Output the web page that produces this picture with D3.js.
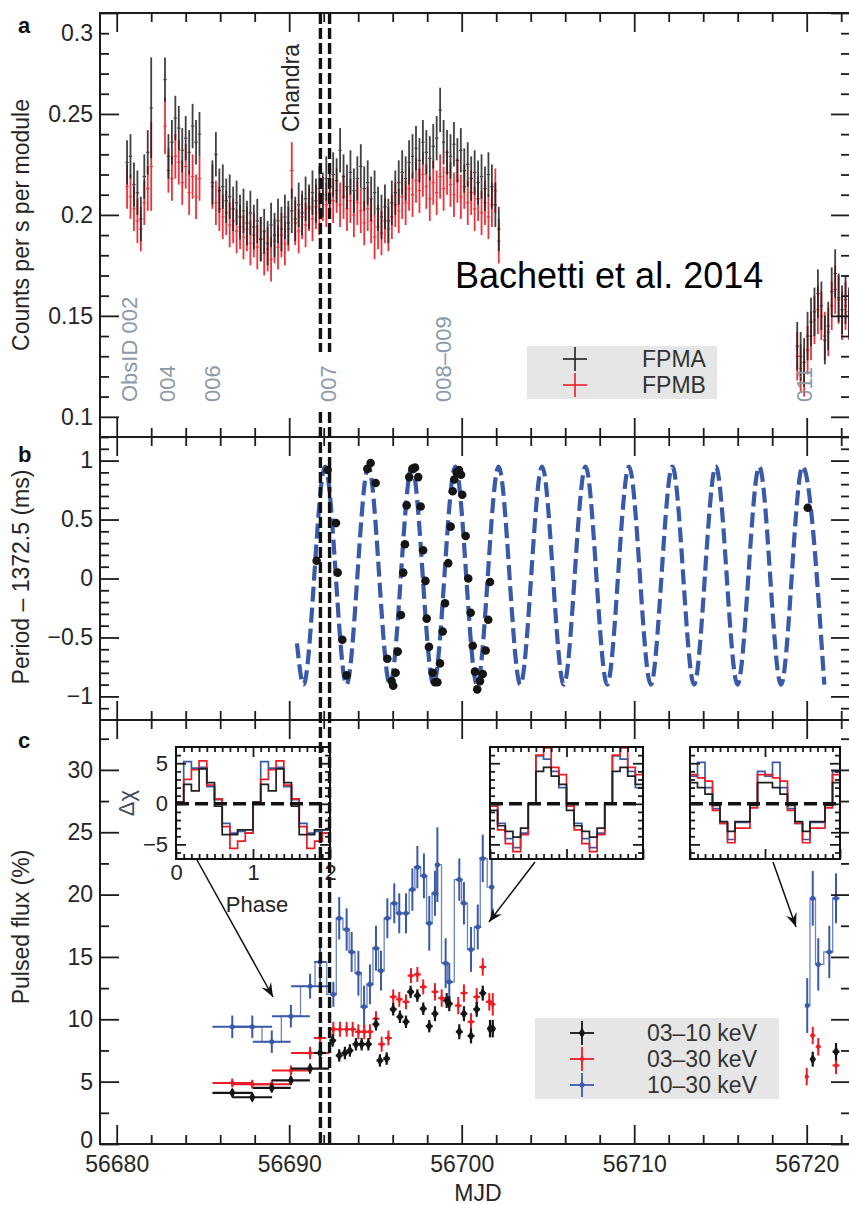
<!DOCTYPE html>
<html>
<head>
<meta charset="utf-8">
<script src="https://cdn.jsdelivr.net/npm/d3@7"></script>
<style>
  body { margin: 0; background: #fff; }
  svg text { font-family: "Liberation Sans", Arial, Helvetica, sans-serif; }
</style>
</head>
<body>
<div id="graf"></div>
<script>
// ---------------- data ----------------
// panel a: light curve, 0.2 d bins, one array per observation segment
const lcStart = [56680.6, 56682.8, 56685.55, 56719.45]
const lcBin = 0.2
const fpma = [
  [0.226, 0.229, 0.215, 0.211, 0.198, 0.219, 0.231, 0.253],
  [0.267, 0.229, 0.236, 0.248, 0.243, 0.232, 0.238, 0.231, 0.244, 0.236, 0.240],
  [0.216, 0.230, 0.212, 0.214, 0.207, 0.209, 0.203, 0.206, 0.199, 0.202,
   0.196, 0.201, 0.194, 0.197, 0.188, 0.192, 0.186, 0.195, 0.190, 0.197,
   0.193, 0.199, 0.196, 0.202, 0.198, 0.205, 0.201, 0.208, 0.204, 0.211,
   0.207, 0.213, 0.210, 0.218, 0.214, 0.220, 0.217, 0.232, 0.219, 0.214,
   0.221, 0.212, 0.218, 0.224, 0.213, 0.216, 0.208, 0.211, 0.203, 0.199,
   0.204, 0.197, 0.206, 0.211, 0.216, 0.221, 0.218, 0.226, 0.229, 0.233,
   0.227, 0.236, 0.231, 0.228, 0.234, 0.238, 0.252, 0.236, 0.231, 0.229,
   0.235, 0.227, 0.232, 0.222, 0.225, 0.218, 0.221, 0.216, 0.219, 0.213,
   0.220, 0.214, 0.205, 0.193],
  [0.135, 0.130, 0.127, 0.140, 0.147, 0.152, 0.161, 0.155, 0.138, 0.145, 0.162, 0.171, 0.159, 0.153, 0.158, 0.152]
]
const fpmb = [
  [0.214, 0.209, 0.203, 0.197, 0.193, 0.206, 0.213, 0.224],
  [0.244, 0.222, 0.218, 0.229, 0.226, 0.216, 0.224, 0.211, 0.219, 0.209, 0.218],
  [0.214, 0.206, 0.203, 0.199, 0.201, 0.195, 0.197, 0.192, 0.194, 0.189,
   0.193, 0.186, 0.190, 0.184, 0.188, 0.181, 0.183, 0.178, 0.187, 0.184,
   0.190, 0.186, 0.193, 0.222, 0.196, 0.192, 0.199, 0.195, 0.203, 0.198,
   0.204, 0.201, 0.208, 0.205, 0.211, 0.207, 0.212, 0.205, 0.209, 0.203,
   0.207, 0.200, 0.206, 0.202, 0.196, 0.203, 0.197, 0.189, 0.194, 0.191,
   0.197, 0.193, 0.199, 0.205, 0.202, 0.209, 0.206, 0.213, 0.210, 0.217,
   0.212, 0.220, 0.214, 0.208, 0.216, 0.211, 0.219, 0.213, 0.221, 0.215,
   0.210, 0.217, 0.209, 0.214, 0.206, 0.211, 0.203, 0.208, 0.201, 0.206,
   0.199, 0.205, 0.212, 0.187],
  [0.130, 0.124, 0.122, 0.133, 0.140, 0.148, 0.153, 0.150, 0.140, 0.142, 0.155, 0.163, 0.158, 0.150, 0.155, 0.150]
]
const lcErr = [0.011, 0.011, 0.011, 0.012]
// [segment, bin, error] for the few bins with larger error bars
const wideErrA = [[0, 7, 0.025], [1, 0, 0.011]]
const wideErrB = [[0, 7, 0.022], [1, 0, 0.014], [2, 23, 0.014]]

const obsLabels = [
  { mjd: 56681.18, text: 'ObsID 002' },
  { mjd: 56683.39, text: '004' },
  { mjd: 56686.0, text: '006' },
  { mjd: 56692.71, text: '007' },
  { mjd: 56699.38, text: '008–009' },
  { mjd: 56720.31, text: '011' }
]
const eclipse = [56691.81, 56692.34] // dashed vertical lines
const chandraMjd = 56690.55

// panel b: period residuals
const periodPts = [
  [56691.59, 0.15], [56692.23, 0.92], [56692.71, 0.47], [56692.81, 0.05], [56693.08, -0.52],
  [56693.33, -0.82], [56694.53, 0.93], [56694.72, 0.98], [56695.01, 0.81], [56695.69, -0.68],
  [56695.94, -0.87], [56696.03, -0.91], [56696.17, -0.80], [56696.29, -0.62], [56696.48, -0.31],
  [56696.61, 0.05], [56696.71, 0.29], [56696.81, 0.62], [56696.96, 0.86], [56697.14, 0.93],
  [56697.29, 0.94], [56697.48, 0.86], [56697.62, 0.61], [56697.76, 0.24], [56697.90, -0.02],
  [56697.97, -0.34], [56698.10, -0.58], [56698.32, -0.80], [56698.45, -0.88], [56698.59, -0.88],
  [56698.74, -0.72], [56698.90, -0.45], [56699.03, -0.21], [56699.22, 0.13], [56699.36, 0.44],
  [56699.48, 0.74], [56699.57, 0.84], [56699.71, 0.90], [56699.84, 0.92], [56699.96, 0.88],
  [56700.03, 0.71], [56700.23, 0.36], [56700.38, 0.00], [56700.52, -0.29], [56700.64, -0.57],
  [56700.77, -0.79], [56700.90, -0.94], [56701.06, -0.87], [56701.22, -0.81], [56701.39, -0.61],
  [56701.54, -0.35], [56701.64, -0.03], [56720.06, 0.60]
]
// orbital model: start, then alternating troughs / peaks
const modelPts = [
  [56690.45, -0.55], [56690.83, -0.90], [56692.08, 0.95], [56693.32, -0.90], [56694.59, 0.95],
  [56695.84, -0.90], [56697.11, 0.95], [56698.37, -0.90], [56699.63, 0.95], [56700.89, -0.90],
  [56702.14, 0.95], [56703.40, -0.90], [56704.66, 0.95], [56705.92, -0.90], [56707.18, 0.95],
  [56708.43, -0.90], [56709.70, 0.95], [56710.96, -0.90], [56712.21, 0.95], [56713.47, -0.90],
  [56714.73, 0.95], [56715.99, -0.90], [56717.25, 0.95], [56718.51, -0.90], [56719.76, 0.95],
  [56721.02, -0.90]
]

// panel c: pulsed fraction [MJD, value, y error, x half-width]
const band0310 = [
  [56686.70, 4.10, 0.30, 1.15], [56687.86, 3.75, 0.30, 1.15], [56688.99, 4.50, 0.35, 1.10],
  [56690.10, 5.10, 0.35, 1.10], [56691.21, 6.05, 0.40, 1.10], [56691.79, 7.30, 0.50, 0.35],
  [56692.52, 8.30, 0.50, 0.20], [56692.90, 7.10, 0.50, 0.20], [56693.23, 7.30, 0.50, 0.20],
  [56693.52, 7.50, 0.50, 0.20], [56693.87, 8.00, 0.50, 0.20], [56694.20, 8.00, 0.50, 0.20],
  [56694.59, 8.00, 0.50, 0.20], [56695.03, 9.60, 0.50, 0.20], [56695.26, 6.70, 0.50, 0.20],
  [56695.65, 6.85, 0.50, 0.20], [56696.03, 10.80, 0.50, 0.20], [56696.42, 10.20, 0.50, 0.20],
  [56696.77, 9.80, 0.50, 0.20], [56697.04, 12.20, 0.50, 0.20], [56697.43, 11.90, 0.50, 0.20],
  [56697.77, 10.85, 0.50, 0.20], [56698.12, 9.45, 0.50, 0.20], [56698.45, 10.45, 0.60, 0.20],
  [56699.13, 11.50, 0.60, 0.20], [56699.28, 11.25, 0.60, 0.20], [56699.86, 9.00, 0.60, 0.20],
  [56700.13, 10.45, 0.60, 0.20], [56700.54, 8.67, 0.60, 0.20], [56700.87, 10.80, 0.60, 0.20],
  [56701.22, 12.10, 0.60, 0.20], [56701.64, 9.25, 0.70, 0.15], [56701.80, 9.25, 0.70, 0.15],
  [56720.35, 6.80, 0.60, 0.15], [56721.70, 7.40, 0.70, 0.20]
]
const band0330 = [
  [56686.70, 4.90, 0.35, 1.15], [56687.86, 4.80, 0.35, 1.15], [56688.99, 4.80, 0.35, 1.10],
  [56690.10, 5.90, 0.40, 1.10], [56691.21, 7.30, 0.50, 1.10], [56691.79, 8.50, 0.60, 0.35],
  [56692.56, 9.20, 0.60, 0.20], [56692.94, 9.20, 0.60, 0.20], [56693.33, 9.20, 0.60, 0.20],
  [56693.68, 9.20, 0.60, 0.20], [56694.01, 9.00, 0.60, 0.20], [56694.35, 9.00, 0.60, 0.20],
  [56694.68, 9.00, 0.60, 0.20], [56695.03, 10.05, 0.60, 0.20], [56695.36, 8.00, 0.60, 0.20],
  [56695.75, 8.50, 0.60, 0.20], [56696.03, 11.80, 0.60, 0.20], [56696.38, 11.60, 0.60, 0.20],
  [56696.77, 11.40, 0.60, 0.20], [56697.06, 13.50, 0.60, 0.20], [56697.43, 13.60, 0.60, 0.20],
  [56697.77, 12.60, 0.60, 0.20], [56698.45, 12.20, 0.70, 0.20], [56698.84, 11.70, 0.70, 0.20],
  [56699.80, 11.10, 0.70, 0.20], [56700.13, 12.10, 0.70, 0.20], [56700.54, 9.80, 0.70, 0.20],
  [56700.87, 11.80, 0.70, 0.20], [56701.22, 14.20, 0.70, 0.20], [56701.60, 11.40, 0.70, 0.20],
  [56701.80, 11.20, 0.90, 0.15], [56720.00, 5.40, 0.70, 0.10], [56720.35, 8.70, 0.70, 0.15],
  [56720.67, 7.80, 0.70, 0.15], [56721.70, 6.30, 0.70, 0.20]
]
const band1030 = [
  [56686.70, 9.40, 0.90, 1.15], [56687.86, 9.40, 0.90, 1.15], [56688.99, 8.20, 0.90, 1.10],
  [56690.10, 10.25, 0.90, 1.10], [56691.21, 12.65, 1.00, 1.10], [56691.79, 14.60, 1.70, 0.35],
  [56692.56, 12.00, 1.00, 0.20], [56692.90, 18.10, 1.70, 0.20], [56693.33, 17.20, 1.70, 0.20],
  [56693.62, 15.40, 1.60, 0.20], [56694.01, 13.70, 1.80, 0.20], [56694.34, 11.00, 1.70, 0.20],
  [56694.68, 12.80, 1.60, 0.20], [56695.03, 15.70, 1.80, 0.20], [56695.32, 13.90, 1.60, 0.20],
  [56695.69, 18.10, 1.60, 0.20], [56696.09, 19.30, 1.60, 0.20], [56696.38, 18.50, 1.60, 0.20],
  [56696.77, 18.50, 1.60, 0.20], [56697.14, 20.40, 1.70, 0.20], [56697.43, 22.20, 1.70, 0.20],
  [56697.81, 21.50, 1.80, 0.20], [56698.12, 17.70, 2.20, 0.20], [56698.45, 20.10, 1.80, 0.20],
  [56698.59, 22.40, 3.00, 0.15], [56699.07, 14.50, 2.00, 0.20], [56699.28, 13.00, 1.50, 0.20],
  [56699.86, 21.20, 1.70, 0.20], [56700.13, 19.30, 1.70, 0.20], [56700.54, 15.60, 1.80, 0.20],
  [56700.93, 17.40, 1.80, 0.20], [56701.22, 22.90, 1.90, 0.20], [56701.74, 20.60, 2.30, 0.15],
  [56720.03, 11.10, 2.20, 0.10], [56720.35, 19.70, 2.20, 0.15], [56720.67, 14.40, 2.10, 0.15],
  [56721.31, 15.40, 2.10, 0.20], [56721.70, 19.70, 2.00, 0.20]
]

// pulse profile insets: Δχ per 0.1-phase bin over one cycle (drawn twice)
const prof1Black = [0.2, 2.4, 1.6, 4.3, 2.6, -0.3, -3.8, -3.8, -3.2, -3.2]
const prof1Red   = [0.2, 3.0, 4.2, 5.3, 2.3, 0.6, -2.8, -5.5, -4.6, -3.6]
const prof1Blue  = [0.0, 5.2, 4.4, 4.5, 2.1, 0.5, -2.4, -3.6, -3.4, -3.6]
const prof2Black = [-0.8, -2.7, -3.4, -4.1, -3.0, 0.0, 4.0, 4.5, 3.4, 2.4]
const prof2Red   = [-0.3, -3.2, -4.9, -5.9, -3.8, 0.1, 6.0, 6.9, 4.5, 3.6]
const prof2Blue  = [0.0, -2.4, -4.3, -5.4, -3.6, 0.0, 5.9, 5.5, 4.0, 2.0]
const prof3Black = [2.6, 2.0, 1.2, -0.2, -2.2, -3.4, -2.2, -2.2, -0.2, 2.6]
const prof3Red   = [3.6, 3.2, 2.8, -0.8, -2.4, -4.8, -3.0, -3.0, -0.5, 3.6]
const prof3Blue  = [3.4, 5.1, 2.0, -0.6, -2.4, -4.4, -2.3, -2.3, 0.0, 4.0]

// tick values
const xMajor = [56680, 56690, 56700, 56710, 56720]
const yTicksA = [0.1, 0.15, 0.2, 0.25, 0.3]
const yTicksB = [-1, -0.5, 0, 0.5, 1]
const yTicksC = [0, 5, 10, 15, 20, 25, 30]

// ---------------- layout ----------------
const FONT = '"Liberation Sans", Arial, Helvetica, sans-serif'
const INK = '#1c1c1c'
const RED = '#ec1c24'
const BLUE = '#3a5aa8'
const left = 100, right = 850

const svg = d3.select('#graf').append('svg')
  .attr('width', 849).attr('height', 1205)

const x = d3.scaleLinear().domain([56679.032, 56722.51]).range([left, right])
const yA = d3.scaleLinear().domain([0.09, 0.30]).range([437, 13])
const yB = d3.scaleLinear().domain([-1.2, 1.2]).range([720, 437])
const yC = d3.scaleLinear().domain([0, 34]).range([1144, 720])

const xMinor = d3.range(56680, 56723, 2).filter(d => d % 10 !== 0)

function tidy(sel) {
  sel.select('.domain').remove()
  sel.selectAll('line').attr('stroke', INK).attr('stroke-width', 1.8)
  sel.selectAll('text').attr('font-size', 23).attr('fill', '#262626').attr('font-family', FONT)
}

function xTicks(yPos, orient, labels) {
  const mk = orient === 'top' ? d3.axisTop : d3.axisBottom
  svg.append('g').attr('transform', `translate(0,${yPos})`)
    .call(mk(x).tickValues(xMinor).tickSize(-9).tickFormat(''))
    .call(tidy)
  svg.append('g').attr('transform', `translate(0,${yPos})`)
    .call(mk(x).tickValues(xMajor).tickSize(-19).tickPadding(12)
      .tickFormat(labels ? d3.format('d') : ''))
    .call(tidy)
}

function yTicks(y, major, minor, fmt) {
  svg.append('g').attr('transform', `translate(${left},0)`)
    .call(d3.axisLeft(y).tickValues(minor).tickSize(-9).tickFormat(''))
    .call(tidy)
  const g = svg.append('g').attr('transform', `translate(${left},0)`)
    .call(d3.axisLeft(y).tickValues(major).tickSize(-19).tickPadding(7).tickFormat(fmt))
    .call(tidy)
  svg.append('g').attr('transform', `translate(${right},0)`)
    .call(d3.axisRight(y).tickValues(minor).tickSize(-9).tickFormat(''))
    .call(tidy)
  svg.append('g').attr('transform', `translate(${right},0)`)
    .call(d3.axisRight(y).tickValues(major).tickSize(-19).tickFormat(''))
    .call(tidy)
  return g
}

const fmt = d3.format('~g')

// ---------------- panel a ----------------
const gA = svg.append('g')
function lcPoints(series, wide) {
  const pts = []
  series.forEach((seg, s) => seg.forEach((v, i) => {
    const w = wide.find(d => d[0] === s && d[1] === i)
    pts.push({ m: lcStart[s] + i * lcBin, v: v, e: w ? w[2] : lcErr[s] })
  }))
  return pts
}
function drawLc(pts, color, opacity) {
  const g = gA.append('g').attr('stroke', color).attr('opacity', opacity)
  g.selectAll('.ev').data(pts).join('line').attr('stroke-width', 1.8)
    .attr('x1', d => x(d.m)).attr('x2', d => x(d.m))
    .attr('y1', d => yA(d.v - d.e)).attr('y2', d => yA(d.v + d.e))
  g.selectAll('.eh').data(pts).join('line').attr('class', 'eh').attr('stroke-width', 1.1)
    .attr('x1', d => x(d.m - lcBin / 2)).attr('x2', d => x(d.m + lcBin / 2))
    .attr('y1', d => yA(d.v)).attr('y2', d => yA(d.v))
}
drawLc(lcPoints(fpmb, wideErrB), RED, 0.9)
drawLc(lcPoints(fpma, wideErrA), '#202020', 0.85)

obsLabels.forEach(d => {
  gA.append('text')
    .attr('transform', `translate(${x(d.mjd)},402) rotate(-90)`)
    .attr('font-size', 22).attr('fill', '#8c99a6')
    .text(d.text)
})
gA.append('text')
  .attr('transform', `translate(${x(chandraMjd)},88) rotate(-90)`)
  .attr('text-anchor', 'middle').attr('font-size', 23).attr('fill', '#262626')
  .text('Chandra')

// legend a
gA.append('rect').attr('x', 527).attr('y', 346).attr('width', 190).attr('height', 53).attr('fill', '#e6e6e6')
;[['FPMA', '#202020', 359], ['FPMB', RED, 385]].forEach(([t, c, yy]) => {
  gA.append('line').attr('x1', 563).attr('x2', 587).attr('y1', yy).attr('y2', yy).attr('stroke', c).attr('stroke-width', 1.6)
  gA.append('line').attr('x1', 575).attr('x2', 575).attr('y1', yy - 12).attr('y2', yy + 12).attr('stroke', c).attr('stroke-width', 1.6)
  gA.append('text').attr('x', 642).attr('y', yy + 8).attr('font-size', 23).attr('fill', '#333').text(t)
})

svg.append('text').attr('x', 455).attr('y', 288).attr('font-size', 36).attr('fill', '#000')
  .text('Bachetti et al. 2014')

// ---------------- panel b ----------------
const gB = svg.append('g')
gB.append('path').datum(modelPts)
  .attr('fill', 'none').attr('stroke', BLUE).attr('stroke-width', 4.2)
  .attr('stroke-dasharray', '15,6')
  .attr('d', d3.line().x(d => x(d[0])).y(d => yB(d[1])).curve(d3.curveMonotoneX))
gB.selectAll('circle').data(periodPts).join('circle')
  .attr('cx', d => x(d[0])).attr('cy', d => yB(d[1])).attr('r', 4.3).attr('fill', '#151515')

// ---------------- panel c ----------------
const gC = svg.append('g')
function groups(arr) {
  const out = [[arr[0]]]
  for (let i = 1; i < arr.length; i++) {
    if (arr[i][0] - arr[i - 1][0] > 3) out.push([])
    out[out.length - 1].push(arr[i])
  }
  return out
}
function drawBand(arr, color, symbol, size, sw, steps) {
  const g = gC.append('g')
  if (steps) {
    const step = d3.line().x(d => x(d[0])).y(d => yC(d[1])).curve(d3.curveStep)
    groups(arr).forEach(grp => {
      g.append('path').datum(grp).attr('fill', 'none').attr('stroke', color)
        .attr('stroke-width', 1.3).attr('opacity', 0.75).attr('d', step)
    })
  }
  g.selectAll('.v').data(arr).join('line').attr('class', 'v')
    .attr('x1', d => x(d[0])).attr('x2', d => x(d[0]))
    .attr('y1', d => yC(d[1] - d[2])).attr('y2', d => yC(d[1] + d[2]))
    .attr('stroke', color).attr('stroke-width', sw)
  g.selectAll('.h').data(arr).join('line').attr('class', 'h')
    .attr('x1', d => x(d[0] - d[3])).attr('x2', d => x(d[0] + d[3]))
    .attr('y1', d => yC(d[1])).attr('y2', d => yC(d[1]))
    .attr('stroke', color).attr('stroke-width', sw)
  g.selectAll('.s').data(arr).join('path').attr('class', 's')
    .attr('transform', d => `translate(${x(d[0])},${yC(d[1])})`)
    .attr('d', d3.symbol().type(symbol).size(size)).attr('fill', color)
}
drawBand(band1030, BLUE, d3.symbolCircle, 20, 2, true)
drawBand(band0330, RED, d3.symbolDiamond, 18, 2, false)
drawBand(band0310, '#151515', d3.symbolDiamond, 34, 2.2, false)

// legend c
gC.append('rect').attr('x', 535).attr('y', 1018).attr('width', 244).attr('height', 81).attr('fill', '#e6e6e6')
;[['03–10 keV', '#151515', 1033, d3.symbolDiamond, 34],
  ['03–30 keV', RED, 1059, d3.symbolDiamond, 18],
  ['10–30 keV', BLUE, 1085, d3.symbolCircle, 20]].forEach(([t, c, yy, sym, sz]) => {
  gC.append('line').attr('x1', 570).attr('x2', 594).attr('y1', yy).attr('y2', yy).attr('stroke', c).attr('stroke-width', 1.8)
  gC.append('line').attr('x1', 582).attr('x2', 582).attr('y1', yy - 12).attr('y2', yy + 12).attr('stroke', c).attr('stroke-width', 1.8)
  gC.append('path').attr('transform', `translate(582,${yy})`).attr('d', d3.symbol().type(sym).size(sz)).attr('fill', c)
  gC.append('text').attr('x', 647).attr('y', yy + 8).attr('font-size', 23).attr('fill', '#333').text(t)
})

// arrows from insets
svg.append('defs').append('marker').attr('id', 'ah')
  .attr('viewBox', '-14 -6 16 12').attr('markerWidth', 16).attr('markerHeight', 12)
  .attr('markerUnits', 'userSpaceOnUse').attr('orient', 'auto').attr('refX', 0).attr('refY', 0)
  .append('path').attr('d', 'M0,0 L-14,-5.5 L-9,0 L-14,5.5 Z').attr('fill', '#111')
;[[197, 860, 273, 997], [535, 862, 489, 922], [773, 862, 796, 927]].forEach(a => {
  svg.append('line').attr('x1', a[0]).attr('y1', a[1]).attr('x2', a[2]).attr('y2', a[3])
    .attr('stroke', '#111').attr('stroke-width', 1.5).attr('marker-end', 'url(#ah)')
})

// insets
const insets = [
  { x0: 176, x1: 330, black: prof1Black, red: prof1Red, blue: prof1Blue, labels: true },
  { x0: 490, x1: 643, black: prof2Black, red: prof2Red, blue: prof2Blue, labels: false },
  { x0: 690, x1: 840, black: prof3Black, red: prof3Red, blue: prof3Blue, labels: false }
]
const insTop = 747, insBot = 859
insets.forEach(ins => {
  const px = d3.scaleLinear().domain([0, 2]).range([ins.x0, ins.x1])
  const py = d3.scaleLinear().domain([-6.8, 7.0]).range([insBot, insTop])
  const g = svg.append('g')
  g.append('rect').attr('x', ins.x0).attr('y', insTop).attr('width', ins.x1 - ins.x0)
    .attr('height', insBot - insTop).attr('fill', '#fff')
  const hist = d3.line().x(d => px(d[0])).y(d => py(d[1])).curve(d3.curveStepAfter)
  ;[[ins.blue, BLUE], [ins.red, RED], [ins.black, '#202020']].forEach(([prof, c]) => {
    const pts = prof.concat(prof).map((v, i) => [i * 0.1, v])
    pts.push([2, prof[prof.length - 1]])
    g.append('path').datum(pts).attr('fill', 'none').attr('stroke', c).attr('stroke-width', 1.7).attr('d', hist)
  })
  g.append('line').attr('x1', px(0)).attr('x2', px(2)).attr('y1', py(0)).attr('y2', py(0))
    .attr('stroke', '#111').attr('stroke-width', 3.5).attr('stroke-dasharray', '13,6')
  const phMinor = d3.range(1, 20).filter(i => i % 10 !== 0).map(i => i / 10)
  const chiMinor = d3.range(-6, 7).filter(v => v % 5 !== 0)
  const put = (axis, tx, ty) => g.append('g').attr('transform', `translate(${tx},${ty})`).call(axis).call(tidy)
  put(d3.axisBottom(px).tickValues(phMinor).tickSize(-5).tickFormat(''), 0, insBot)
  put(d3.axisTop(px).tickValues(phMinor).tickSize(-5).tickFormat(''), 0, insTop)
  put(d3.axisTop(px).tickValues([1]).tickSize(-10).tickFormat(''), 0, insTop)
  put(d3.axisLeft(py).tickValues(chiMinor).tickSize(-5).tickFormat(''), ins.x0, 0)
  put(d3.axisRight(py).tickValues(chiMinor).tickSize(-5).tickFormat(''), ins.x1, 0)
  put(d3.axisRight(py).tickValues([-5, 0, 5]).tickSize(-10).tickFormat(''), ins.x1, 0)
  const bx = put(d3.axisBottom(px).tickValues([0, 1, 2]).tickSize(-10).tickPadding(5)
    .tickFormat(ins.labels ? fmt : ''), 0, insBot)
  const ly = put(d3.axisLeft(py).tickValues([-5, 0, 5]).tickSize(-10).tickPadding(8)
    .tickFormat(ins.labels ? fmt : ''), ins.x0, 0)
  bx.selectAll('text').attr('font-size', 22)
  ly.selectAll('text').attr('font-size', 22)
  g.append('rect').attr('x', ins.x0).attr('y', insTop).attr('width', ins.x1 - ins.x0)
    .attr('height', insBot - insTop).attr('fill', 'none').attr('stroke', '#111').attr('stroke-width', 2)
  if (ins.labels) {
    g.append('text').attr('x', 257).attr('y', 912).attr('text-anchor', 'middle')
      .attr('font-size', 22).attr('fill', '#262626').text('Phase')
    g.append('text').attr('transform', 'translate(134,803) rotate(-90)').attr('text-anchor', 'middle')
      .attr('font-size', 22).attr('fill', '#3d4a5c').text('Δχ')
  }
})

// ---------------- axes and frames ----------------
xTicks(13, 'top', false)
xTicks(437, 'bottom', false)
xTicks(437, 'top', false)
xTicks(720, 'bottom', false)
xTicks(720, 'top', false)
xTicks(1144, 'bottom', true)

const axA = yTicks(yA, yTicksA, d3.range(9, 31).filter(i => i % 5 !== 0).map(i => i / 100), fmt)
axA.selectAll('.tick').filter(d => d === 0.3).select('text').attr('dy', '1.2em')
yTicks(yB, yTicksB, d3.range(-11, 12).filter(i => i % 5 !== 0).map(i => i / 10), fmt)
const axC = yTicks(yC, yTicksC, d3.range(0, 34, 2.5).filter(v => v % 5 !== 0), fmt)
axC.selectAll('.tick').filter(d => d === 0).select('text').attr('dy', '0.15em')

;[[13, 437], [437, 720], [720, 1144]].forEach(([t, b]) => {
  svg.append('rect').attr('x', left).attr('y', t).attr('width', right - left).attr('height', b - t)
    .attr('fill', 'none').attr('stroke', INK).attr('stroke-width', 2)
})

// dashed lines across all panels, interrupted where the "007" label sits
eclipse.forEach(m => {
  ;[[13, 352], [412, 1144]].forEach(([y1, y2]) => {
    svg.append('line').attr('x1', x(m)).attr('x2', x(m)).attr('y1', y1).attr('y2', y2)
      .attr('stroke', '#111').attr('stroke-width', 3.4).attr('stroke-dasharray', '11,4')
  })
})

// axis titles and panel letters
const ttl = (t, tx, ty) => svg.append('text').attr('transform', `translate(${tx},${ty}) rotate(-90)`)
  .attr('text-anchor', 'middle').attr('font-size', 23).attr('fill', '#262626').text(t)
ttl('Counts per s per module', 29, 225)
ttl('Period – 1372.5 (ms)', 29, 577)
ttl('Pulsed flux (%)', 29, 927)
svg.append('text').attr('x', 478).attr('y', 1201).attr('text-anchor', 'middle')
  .attr('font-size', 23).attr('fill', '#262626').text('MJD')
;[['a', 33], ['b', 462], ['c', 748]].forEach(([t, yy]) => {
  svg.append('text').attr('x', 18).attr('y', yy).attr('font-size', 22).attr('font-weight', 'bold')
    .attr('fill', '#111').text(t)
})
</script>
</body>
</html>
